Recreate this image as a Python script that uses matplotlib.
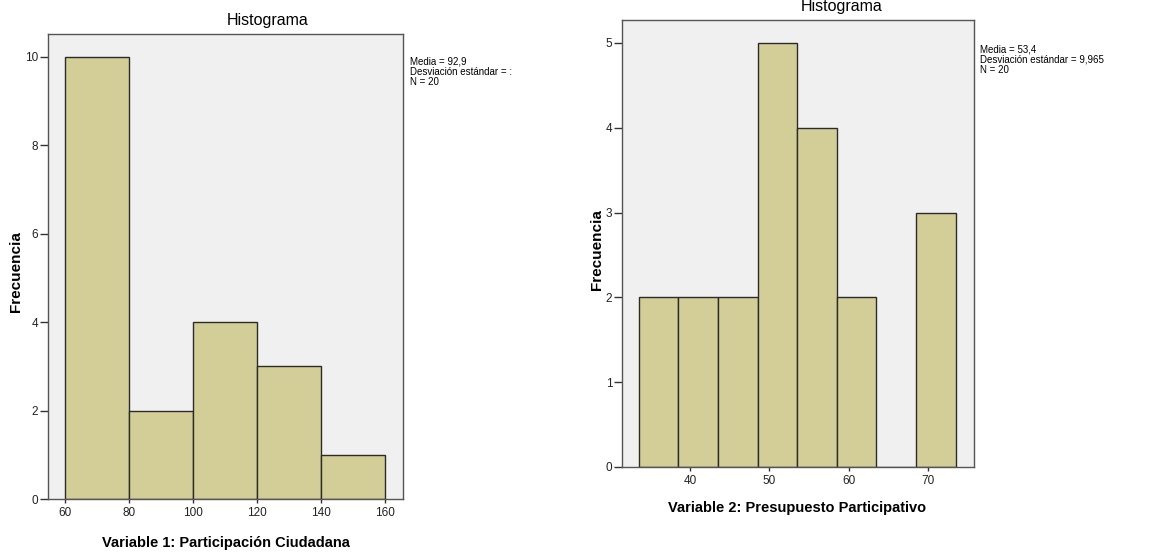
import numpy as np
import matplotlib.pyplot as plt

# Variable 1: Participación Ciudadana
edges_1 = [60, 80, 100, 120, 140, 160]
counts_1 = [10, 2, 4, 3, 1]
stats_1 = "Media = 92,9\nDesviación estándar = :\nN = 20"

# Variable 2: Presupuesto Participativo
edges_2 = [33.5, 38.5, 43.5, 48.5, 53.5, 58.5, 63.5, 68.5, 73.5]
counts_2 = [2, 2, 2, 5, 4, 2, 0, 3]
stats_2 = "Media = 53,4\nDesviación estándar = 9,965\nN = 20"

bar_color = "#d3ce97"
bg_color = "#f0f0f0"
edge_color = "#2b2b2b"
sans = ["Liberation Sans", "DejaVu Sans"]

fig = plt.figure(figsize=(11.7, 5.52), dpi=100)

ax1 = fig.add_axes([0.041, 0.096, 0.3034, 0.8424])
ax2 = fig.add_axes([0.5316, 0.154, 0.3009, 0.8098])


def draw_hist(ax, edges, counts, xlim, ylim, yticks, xticks):
    edges = np.array(edges, dtype=float)
    ax.bar(edges[:-1], counts, width=np.diff(edges), align="edge",
           color=bar_color, edgecolor=edge_color, linewidth=1.0, zorder=2)
    ax.set_facecolor(bg_color)
    ax.set_xlim(*xlim)
    ax.set_ylim(*ylim)
    ax.set_yticks(yticks)
    ax.set_xticks(xticks)
    for s in ax.spines.values():
        s.set_color("#555555")
        s.set_linewidth(1.0)
    ax.tick_params(axis="y", length=6, width=1, color="#333333", pad=1)
    ax.tick_params(axis="x", length=3, width=1, color="#333333", pad=3)
    for lab in ax.get_xticklabels() + ax.get_yticklabels():
        lab.set_family(sans)
        lab.set_fontsize(8.5)
        lab.set_color("#222222")


draw_hist(ax1, edges_1, counts_1, (54.7, 165.6), (0, 10.52),
          [0, 2, 4, 6, 8, 10], [60, 80, 100, 120, 140, 160])
draw_hist(ax2, edges_2, counts_2, (31.4, 75.8), (0, 5.27),
          [0, 1, 2, 3, 4, 5], [40, 50, 60, 70])

# titles
fig.text(268 / 1170, 1 - 20 / 552, "Histograma", ha="center", va="center",
         family=sans, fontsize=11.5)
fig.text(842 / 1170, 1 - 7 / 552, "Histograma", ha="center", va="center",
         family=sans, fontsize=11.5)

# axis labels
fig.text(225.5 / 1170, 1 - 543 / 552, "Variable 1: Participación Ciudadana",
         ha="center", va="center", family=sans, fontsize=10.5, fontweight="bold")
fig.text(797 / 1170, 1 - 508 / 552, "Variable 2: Presupuesto Participativo",
         ha="center", va="center", family=sans, fontsize=10.5, fontweight="bold")
fig.text(16 / 1170, 1 - 272 / 552, "Frecuencia", rotation=90,
         ha="center", va="center", family=sans, fontsize=11, fontweight="bold")
fig.text(597 / 1170, 1 - 250 / 552, "Frecuencia", rotation=90,
         ha="center", va="center", family=sans, fontsize=11, fontweight="bold")

# statistics boxes
fig.text(410 / 1170, 1 - 57 / 552, stats_1, ha="left", va="top",
         family=sans, fontsize=7, linespacing=1.0)
fig.text(980 / 1170, 1 - 45 / 552, stats_2, ha="left", va="top",
         family=sans, fontsize=7, linespacing=1.0)

fig.savefig("out.png", dpi=100)
